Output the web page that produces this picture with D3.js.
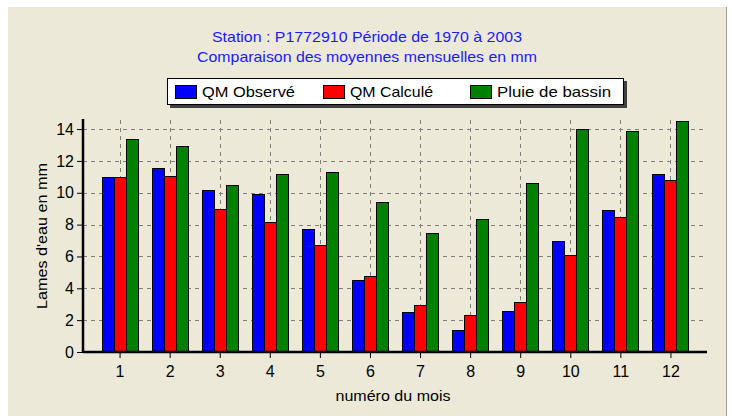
<!DOCTYPE html>
<html>
<head>
<meta charset="utf-8">
<script src="https://d3js.org/d3.v7.min.js"></script>
<style>
	body { margin: 0; background: #fff; }
	svg { display: block; font-family: "Liberation Sans", Arial, sans-serif; }
	.grid line { stroke: #808080; stroke-width: 1; stroke-dasharray: 4,4; }
	.bar { stroke: #000; stroke-width: 1; }
</style>
</head>
<body>
<div id="chart"></div>
<script>
var w = 732, h = 416;

// Data
var months = [1,2,3,4,5,6,7,8,9,10,11,12];
var qmObserve = [11.0, 11.55, 10.15, 9.95, 7.7, 4.5, 2.5, 1.4, 2.6, 6.95, 8.9, 11.15];
var qmCalcule = [11.0, 11.05, 9.0, 8.15, 6.75, 4.75, 2.95, 2.3, 3.15, 6.1, 8.5, 10.8];
var pluieBassin = [13.35, 12.95, 10.5, 11.15, 11.3, 9.4, 7.5, 8.35, 10.6, 14.0, 13.9, 14.5];
var seriesNames = ["QM Observé", "QM Calculé", "Pluie de bassin"];
var seriesColors = ["#0000ff", "#ff0000", "#008000"];
var yTicks = [0,2,4,6,8,10,12,14];
var titleLines = ["Station : P1772910 Période de 1970 à 2003", "Comparaison des moyennes mensuelles en mm"];

var plot = { left: 83, right: 707, top: 120, bottom: 352 };

var svg = d3.select("#chart").append("svg")
	.attr("width", w)
	.attr("height", h);

// Window frame
svg.append("rect")
	.attr("x", 8).attr("y", 7)
	.attr("width", 718).attr("height", h - 7)
	.attr("fill", "#ece9d8");
svg.append("line")
	.attr("x1", 726.5).attr("y1", 7)
	.attr("x2", 726.5).attr("y2", h)
	.attr("stroke", "#a0a0a0");

// Scales
var x = d3.scaleLinear()
	.domain([0.27, 12.73])
	.range([plot.left, plot.right]);

var y = d3.scaleLinear()
	.domain([0, 14.57])
	.range([plot.bottom, plot.top]);

var barW = 12;

// Title (text in the original is a bit stretched)
var titleWidths = [310, 340];
svg.append("g").selectAll("text")
	.data(titleLines)
	.enter()
	.append("text")
		.attr("x", 367)
		.attr("y", function(d, i) { return 42 + i * 20; })
		.attr("text-anchor", "middle")
		.attr("font-size", "15px")
		.attr("textLength", function(d, i) { return titleWidths[i]; })
		.attr("lengthAdjust", "spacingAndGlyphs")
		.attr("fill", "#1a1aff")
		.text(function(d) { return d; });

// Grid lines
var grid = svg.append("g").attr("class", "grid");

grid.selectAll("line.h")
	.data(yTicks.filter(function(d) { return d > 0; }))
	.enter()
	.append("line")
		.attr("class", "h")
		.attr("x1", plot.left)
		.attr("x2", plot.right)
		.attr("y1", function(d) { return Math.round(y(d)) + 0.5; })
		.attr("y2", function(d) { return Math.round(y(d)) + 0.5; });

grid.selectAll("line.v")
	.data(months)
	.enter()
	.append("line")
		.attr("class", "v")
		.attr("x1", function(d) { return Math.round(x(d)) + 0.5; })
		.attr("x2", function(d) { return Math.round(x(d)) + 0.5; })
		.attr("y1", plot.top)
		.attr("y2", plot.bottom);

// Bars
var allSeries = [qmObserve, qmCalcule, pluieBassin];

svg.append("defs").append("clipPath")
	.attr("id", "plotclip")
	.append("rect")
		.attr("x", plot.left).attr("y", plot.top)
		.attr("width", plot.right - plot.left).attr("height", plot.bottom - plot.top);

var bars = svg.append("g").attr("clip-path", "url(#plotclip)");

allSeries.forEach(function(series, s) {
	bars.selectAll("rect.s" + s)
		.data(series)
		.enter()
		.append("rect")
			.attr("class", "bar s" + s)
			.attr("x", function(d, i) { return Math.round(x(months[i]) - 1.5 * barW + s * barW) + 0.5; })
			.attr("y", function(d) { return Math.round(y(d)) + 0.5; })
			.attr("width", barW)
			.attr("height", function(d) { return Math.round(y(0)) - Math.round(y(d)); })
			.attr("fill", seriesColors[s]);
});

// Axes
var yAxis = d3.axisLeft(y)
	.tickValues(yTicks)
	.tickSize(6)
	.tickPadding(3)
	.tickFormat(d3.format("d"));

var yMinor = d3.axisLeft(y)
	.tickValues(d3.range(0, 14.6, 0.5))
	.tickSize(3)
	.tickFormat("");

var xAxis = d3.axisBottom(x)
	.tickValues(months)
	.tickSize(6)
	.tickPadding(8)
	.tickFormat(d3.format("d"));

var xMinor = d3.axisBottom(x)
	.tickValues(d3.range(0.5, 12.6, 0.25))
	.tickSize(3)
	.tickFormat("");

var gy = svg.append("g").attr("transform", "translate(" + plot.left + ",0)");
gy.call(yMinor);
gy.call(yAxis);

var gx = svg.append("g").attr("transform", "translate(0," + plot.bottom + ")");
gx.call(xMinor);
gx.call(xAxis);

svg.selectAll(".domain").remove();
svg.selectAll(".tick line").attr("stroke", "#000");
svg.selectAll(".tick text")
	.attr("font-size", "16px")
	.attr("font-family", "Liberation Sans, Arial, sans-serif")
	.attr("fill", "#000");

// Axis lines
svg.append("line")
	.attr("x1", plot.left).attr("y1", plot.top - 1)
	.attr("x2", plot.left).attr("y2", plot.bottom + 1)
	.attr("stroke", "#000").attr("stroke-width", 2.5);
svg.append("line")
	.attr("x1", plot.left).attr("y1", plot.bottom)
	.attr("x2", plot.right).attr("y2", plot.bottom)
	.attr("stroke", "#000").attr("stroke-width", 2.5);

// Axis titles
svg.append("text")
	.attr("transform", "translate(47," + ((plot.top + plot.bottom) / 2) + ") rotate(-90)")
	.attr("text-anchor", "middle")
	.attr("font-size", "15px")
	.attr("textLength", 146)
	.attr("lengthAdjust", "spacingAndGlyphs")
	.text("Lames d'eau en mm");

svg.append("text")
	.attr("x", 393)
	.attr("y", 401)
	.attr("text-anchor", "middle")
	.attr("font-size", "15px")
	.attr("textLength", 115)
	.attr("lengthAdjust", "spacingAndGlyphs")
	.text("numéro du mois");

// Legend
var legend = svg.append("g").attr("transform", "translate(167,78)");

legend.append("rect")
	.attr("x", 3).attr("y", 3)
	.attr("width", 457).attr("height", 27)
	.attr("fill", "#404040");
legend.append("rect")
	.attr("x", 0.5).attr("y", 0.5)
	.attr("width", 456).attr("height", 26)
	.attr("fill", "#fff")
	.attr("stroke", "#000");

var legendX = [8, 156, 303];
var legendWidths = [93, 83, 114];

var items = legend.selectAll("g.item")
	.data(seriesNames)
	.enter()
	.append("g")
		.attr("class", "item")
		.attr("transform", function(d, i) { return "translate(" + legendX[i] + ",0)"; });

items.append("rect")
	.attr("x", 0.5).attr("y", 7.5)
	.attr("width", 21).attr("height", 13)
	.attr("fill", function(d, i) { return seriesColors[i]; })
	.attr("stroke", "#000");

items.append("text")
	.attr("x", 27)
	.attr("y", 19)
	.attr("font-size", "15px")
	.attr("textLength", function(d, i) { return legendWidths[i]; })
	.attr("lengthAdjust", "spacingAndGlyphs")
	.text(function(d) { return d; });
</script>
</body>
</html>
